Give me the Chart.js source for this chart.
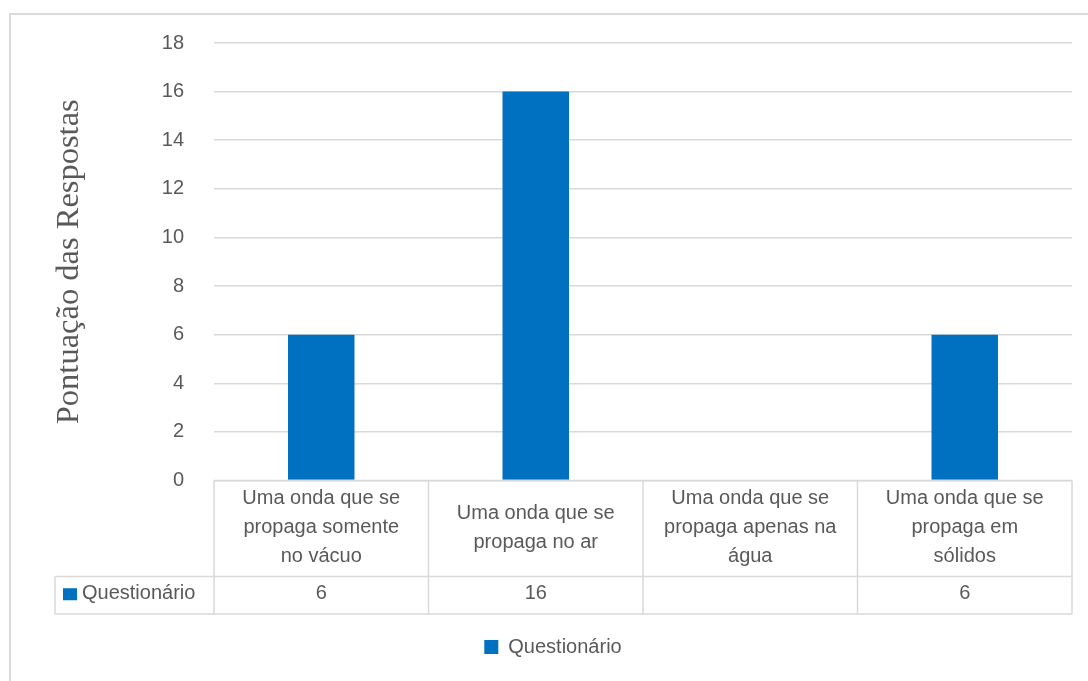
<!DOCTYPE html>
<html>
<head>
<meta charset="utf-8">
<script src="https://cdn.jsdelivr.net/npm/chart.js@4"></script>
<style>
  html, body { margin: 0; padding: 0; background: #fff; }
  #wrap { width: 1088px; height: 681px; }
</style>
</head>
<body>
<div id="wrap"><canvas id="myChart" width="1088" height="681"></canvas></div>
<script>
// categories (one line per array entry, as they wrap in the table cells)
const categories = [
  ['Uma onda que se', 'propaga somente', 'no vácuo'],
  ['Uma onda que se', 'propaga no ar'],
  ['Uma onda que se', 'propaga apenas na', 'água'],
  ['Uma onda que se', 'propaga em', 'sólidos']
];
const seriesName = 'Questionário';
const questionario = [6, 16, null, 6];
const yTickValues = [0, 2, 4, 6, 8, 10, 12, 14, 16, 18];
const yTitle = 'Pontuação das Respostas';

const sansFont = "'Liberation Sans', Arial, sans-serif";
const textGrey = '#595959';
const lineGrey = '#D9D9D9';
const barBlue = '#0070C0';

Chart.defaults.font.family = sansFont;
Chart.defaults.color = textGrey;

// outer frame of the chart object
const frame = {
  id: 'frame',
  beforeDraw(chart) {
    const ctx = chart.ctx;
    ctx.save();
    ctx.strokeStyle = '#DADADA';
    ctx.lineWidth = 2;
    ctx.beginPath();
    ctx.moveTo(10, chart.height);
    ctx.lineTo(10, 14);
    ctx.lineTo(chart.width, 14);
    ctx.stroke();
    ctx.restore();
  }
};

// data table under the plot: category row + value row with legend key
const dataTable = {
  id: 'dataTable',
  afterDraw(chart) {
    const ctx = chart.ctx;
    const xs = chart.scales.x;
    const area = chart.chartArea;
    const top = area.bottom;
    const mid = top + 96;
    const bottom = xs.bottom;
    const keyLeft = 55;
    const n = categories.length;
    const step = (area.right - area.left) / n;

    ctx.save();
    ctx.strokeStyle = lineGrey;
    ctx.lineWidth = 1.5;
    ctx.beginPath();
    ctx.moveTo(area.left, top); ctx.lineTo(area.right, top);
    ctx.moveTo(keyLeft, mid); ctx.lineTo(area.right, mid);
    ctx.moveTo(keyLeft, bottom); ctx.lineTo(area.right, bottom);
    ctx.moveTo(keyLeft, mid); ctx.lineTo(keyLeft, bottom);
    for (let i = 0; i <= n; i++) {
      const bx = area.left + i * step;
      ctx.moveTo(bx, top); ctx.lineTo(bx, bottom);
    }
    ctx.stroke();

    ctx.fillStyle = textGrey;
    ctx.font = '20px ' + sansFont;
    ctx.textAlign = 'center';
    ctx.textBaseline = 'middle';
    const lh = 29;
    categories.forEach((lines, i) => {
      const cx = xs.getPixelForValue(i);
      const cy = (top + mid) / 2 - 1;
      const y0 = cy - (lines.length - 1) * lh / 2;
      lines.forEach((t, j) => ctx.fillText(t, cx, y0 + j * lh));
      const v = questionario[i];
      if (v !== null) ctx.fillText(String(v), cx, (mid + bottom) / 2 - 2);
    });

    // legend key in the first cell of the value row
    const rowMid = (mid + bottom) / 2;
    ctx.fillStyle = barBlue;
    ctx.fillRect(63, rowMid - 7, 14, 12);
    ctx.fillStyle = textGrey;
    ctx.textAlign = 'left';
    ctx.fillText(seriesName, 82, rowMid - 2);
    ctx.restore();
  }
};

const myChart = new Chart(document.getElementById('myChart'), {
  type: 'bar',
  data: {
    labels: categories,
    datasets: [{
      label: seriesName,
      data: questionario,
      backgroundColor: barBlue,
      borderWidth: 0,
      barPercentage: 0.31,
      categoryPercentage: 1
    }]
  },
  options: {
    responsive: false,
    animation: false,
    layout: { padding: { left: 34, right: 16, top: 43, bottom: 14 } },
    plugins: {
      tooltip: { enabled: false },
      legend: {
        position: 'bottom',
        labels: {
          boxWidth: 14,
          boxHeight: 14,
          padding: 23,
          color: textGrey,
          font: { size: 20 }
        }
      }
    },
    scales: {
      x: {
        grid: { display: false },
        border: { display: false },
        ticks: { display: false },
        afterFit(scale) { scale.height = 133.5; }
      },
      y: {
        min: yTickValues[0],
        max: yTickValues[yTickValues.length - 1],
        afterBuildTicks(scale) {
          scale.ticks = yTickValues.map(v => ({ value: v }));
        },
        afterFit(scale) { scale.width = 180; },
        grid: { color: lineGrey, lineWidth: 1.5, drawTicks: false },
        border: { display: false },
        ticks: { padding: 30, color: textGrey, font: { size: 20 } },
        title: {
          display: true,
          text: yTitle,
          color: textGrey,
          padding: { top: 16, bottom: 0 },
          font: { family: "'Liberation Serif', 'Times New Roman', serif", size: 32.5 }
        }
      }
    }
  },
  plugins: [frame, dataTable]
});
</script>
</body>
</html>
